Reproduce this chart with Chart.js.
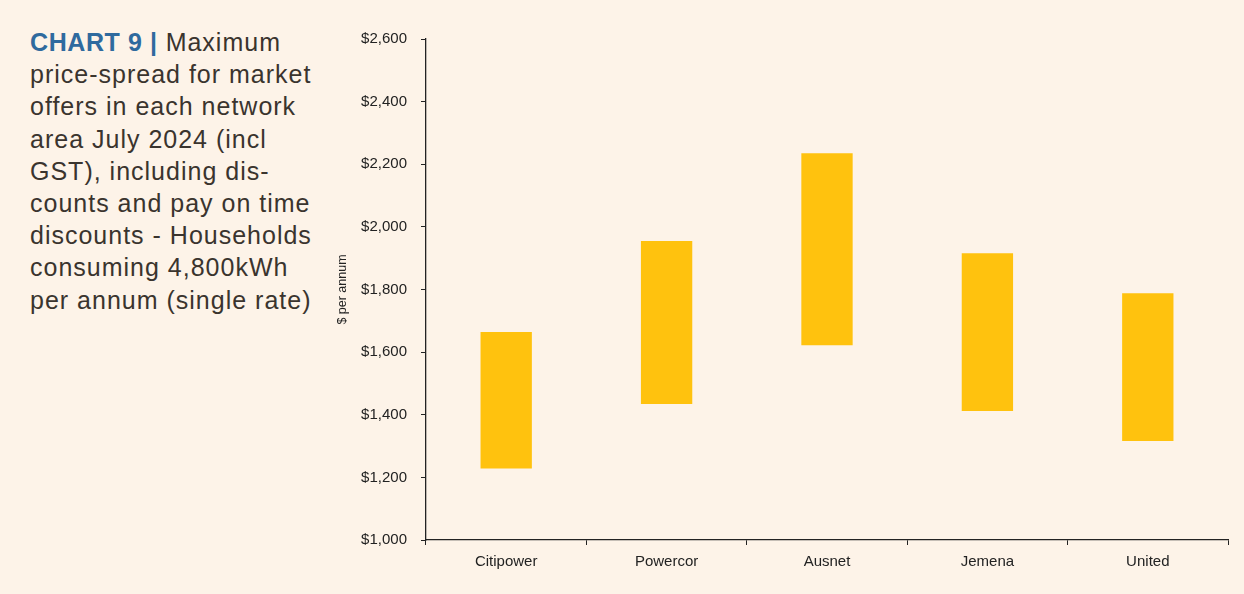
<!DOCTYPE html>
<html>
<head>
<meta charset="utf-8">
<script src="https://cdn.jsdelivr.net/npm/chart.js@4.4.1/dist/chart.umd.min.js"></script>
<style>
  html, body { margin: 0; padding: 0; background: #fdf3e8; }
  body { width: 1244px; height: 594px; position: relative; overflow: hidden; }
  .caption {
    position: absolute; left: 30px; top: 26px; width: 320px; white-space: nowrap;
    font-family: 'Liberation Sans', Arial, sans-serif; font-size: 25px; line-height: 32.2px;
    letter-spacing: 1px; color: #3a342e;
  }
  .caption b { color: #2f6a9e; letter-spacing: 0.6px; }
  .chart-box { position: absolute; left: 330px; top: 0; width: 914px; height: 594px; }
</style>
</head>
<body>
<div class="caption"><b>CHART 9 |</b> Maximum<br>price-spread for market<br>offers in each network<br>area July 2024 (incl<br>GST), including dis-<br>counts and pay on time<br>discounts - Households<br>consuming 4,800kWh<br>per annum (single rate)</div>
<div class="chart-box"><canvas id="spread-chart"></canvas></div>
<script>
// Network areas
const areas = ['Citipower', 'Powercor', 'Ausnet', 'Jemena', 'United'];
// Cheapest and most expensive offer, $ per annum
const lowOffer = [1228, 1434, 1622, 1412, 1316];
const highOffer = [1664, 1955, 2235, 1916, 1788];

const ink = '#222222';
const tickFont = { family: "'Liberation Sans', Arial, sans-serif", size: 15 };

const canvas = document.getElementById('spread-chart');
const chart = new Chart(canvas.getContext('2d'), {
  type: 'bar',
  data: {
    labels: areas,
    datasets: [{
      data: areas.map((a, i) => [lowOffer[i], highOffer[i]]),
      backgroundColor: '#ffc20e',
      borderWidth: 0,
      barPercentage: 0.32,
      categoryPercentage: 1,
    }],
  },
  options: {
    responsive: true,
    maintainAspectRatio: false,
    animation: false,
    layout: { padding: { top: 39, right: 16, bottom: 0, left: 0 } },
    plugins: { legend: { display: false }, tooltip: { enabled: false } },
    scales: {
      x: {
        grid: { drawOnChartArea: false, tickLength: 5, color: ink, offset: true },
        border: { color: ink, width: 1.3 },
        ticks: { color: ink, padding: 8, font: tickFont },
        afterFit: (scale) => { scale.height = 54; },
      },
      y: {
        min: 1000,
        max: 2600,
        grid: { drawOnChartArea: false, tickLength: 5, color: ink },
        border: { color: ink, width: 1.3 },
        ticks: {
          stepSize: 200,
          color: ink,
          padding: 14,
          font: tickFont,
          callback: (v) => '$' + v.toLocaleString('en-US'),
        },
        title: {
          display: true,
          text: '$ per annum',
          color: ink,
          padding: { top: 5, bottom: 0 },
          font: { family: "'Liberation Sans', Arial, sans-serif", size: 12.5 },
        },
        afterFit: (scale) => { scale.width = 96; },
      },
    },
  },
});
</script>
</body>
</html>
